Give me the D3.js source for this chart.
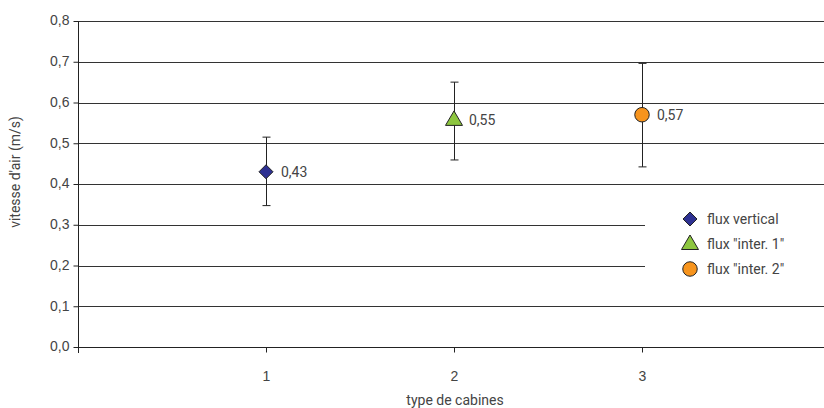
<!DOCTYPE html>
<html><head><meta charset="utf-8">
<script src="https://cdn.jsdelivr.net/npm/d3@7"></script>
<style>body{margin:0;background:#fff}svg{display:block;font-family:Roboto,"DejaVu Sans",sans-serif}</style>
</head><body><svg id="c" width="824" height="408"></svg>
<script>
const categories = [1, 2, 3];
const seriesNames = ['flux vertical', 'flux "inter. 1"', 'flux "inter. 2"'];
const values = [0.43, 0.55, 0.57];
const errLow = [0.347, 0.459, 0.442];
const errHigh = [0.515, 0.650, 0.696];
const valueLabels = ['0,43', '0,55', '0,57'];
const yTicks = [0, 0.1, 0.2, 0.3, 0.4, 0.5, 0.6, 0.7, 0.8];
const xTicks = [1, 2, 3];
const colors = ['#2e3192', '#8dc63f', '#f7941d'];

const svg = d3.select('#c');
const x = d3.scaleLinear().domain([0, 4]).range([78, 830]);
const y = d3.scaleLinear().domain([0, 0.8]).range([347, 21]);
const fmt = d => d.toFixed(1).replace('.', ',');
const textCol = '#444';

// marker shapes
const diamond = 'M0,-7L7,0L0,7L-7,0Z';
const triangle = 'M0,-9L8.5,5.5L-8.5,5.5Z';
const circle = d3.symbol(d3.symbolCircle, 165)();
const shapes = [diamond, triangle, circle];

// gridlines
const legendLeft = 645;
svg.append('g').selectAll('line').data(yTicks.filter(d => d > 0)).join('line')
  .attr('x1', x(0)).attr('x2', d => (d === 0.2 || d === 0.3) ? legendLeft : 824)
  .attr('y1', d => Math.round(y(d)) + 0.5).attr('y2', d => Math.round(y(d)) + 0.5)
  .attr('stroke', '#333').attr('stroke-width', 1);

// y axis
const yAxis = svg.append('g').attr('transform', `translate(${x(0)+0.5},0)`)
  .call(d3.axisLeft(y).tickValues(yTicks).tickFormat(fmt).tickSize(5).tickPadding(4));
yAxis.select('.domain').attr('d', `M0,${y(0.8)}V${y(0)+6}`).attr('stroke', '#222');
yAxis.selectAll('.tick line').attr('stroke', '#222');
yAxis.selectAll('.tick text').attr('fill', textCol).style('font-size', '14px').attr('dy', '0.28em');

// x axis
const xAxis = svg.append('g').attr('transform', `translate(0,${Math.round(y(0))+0.5})`)
  .call(d3.axisBottom(x).tickValues(xTicks).tickFormat(d3.format('d')).tickSize(5).tickPadding(0));
xAxis.select('.domain').attr('d', `M${x(0)},0H824`).attr('stroke', '#222');
xAxis.selectAll('.tick line').attr('stroke', '#222');
xAxis.selectAll('.tick text').attr('fill', textCol).style('font-size', '14px').attr('y', 0).attr('dy', 0)
  .attr('transform', 'translate(0,33)');

// error bars
const eb = svg.append('g').attr('stroke', '#222').attr('stroke-width', 1);
categories.forEach((c, i) => {
  const cx = Math.round(x(c)) + 0.5;
  eb.append('line').attr('x1', cx).attr('x2', cx).attr('y1', y(errLow[i])).attr('y2', y(errHigh[i]));
  eb.append('line').attr('x1', cx - 4).attr('x2', cx + 4).attr('y1', y(errLow[i])).attr('y2', y(errLow[i]));
  eb.append('line').attr('x1', cx - 4).attr('x2', cx + 4).attr('y1', y(errHigh[i])).attr('y2', y(errHigh[i]));
});

// markers + labels
categories.forEach((c, i) => {
  svg.append('path').attr('d', shapes[i])
    .attr('transform', `translate(${x(c)},${y(values[i]) - (i === 1 ? 3 : 0)})`)
    .attr('fill', colors[i]).attr('stroke', '#222').attr('stroke-width', 1);
  svg.append('text').attr('x', x(c) + 15).attr('y', y(values[i]) + 5 - (i === 1 ? 3 : 0))
    .attr('fill', textCol).style('font-size', '14px').text(valueLabels[i]);
});

// legend
const lg = svg.append('g');
seriesNames.forEach((n, i) => {
  const ly = 219 + i * 25;
  lg.append('path').attr('d', shapes[i])
    .attr('transform', `translate(690,${ly})`)
    .attr('fill', colors[i]).attr('stroke', '#222').attr('stroke-width', 1);
  lg.append('text').attr('x', 707).attr('y', ly + 5).attr('fill', textCol)
    .style('font-size', '14px').text(n);
});

// axis titles
svg.append('text').attr('x', 455).attr('y', 405).attr('text-anchor', 'middle')
  .attr('fill', textCol).style('font-size', '14px').text('type de cabines');
svg.append('text').attr('transform', 'translate(20,172) rotate(-90)').attr('text-anchor', 'middle')
  .attr('fill', textCol).style('font-size', '14px').text("vitesse d'air (m/s)");
</script></body></html>
